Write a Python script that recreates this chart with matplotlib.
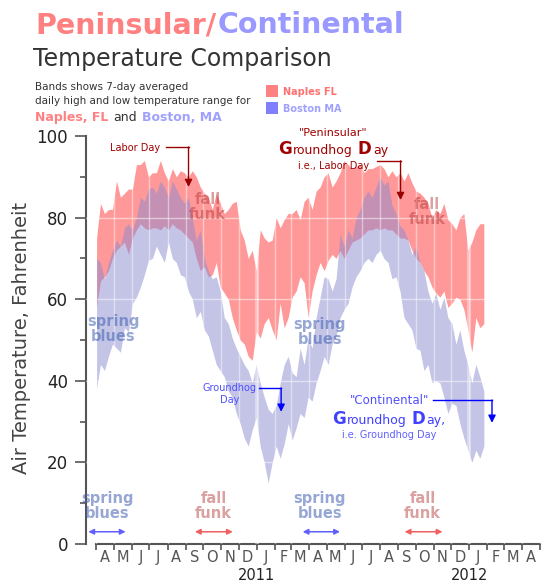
import numpy as np
import pandas as pd
import matplotlib
matplotlib.use("Agg")
import matplotlib.pyplot as plt
import matplotlib.dates as mdates
from matplotlib.patches import Rectangle
from matplotlib.transforms import IdentityTransform

# weekly readings of the 7-day averaged daily high / low (deg F), Apr 2010 -> Jan 2012
naples_high = [75, 83.5, 81, 82, 82, 89, 85, 86, 87, 87, 93, 93, 94, 90, 91, 91, 94, 91, 89, 92, 90, 91.5, 91, 90,
               91.5, 90, 87.5, 86, 85, 82, 86, 83.5, 81, 82, 83.5, 84, 77, 74.5, 70, 72, 67, 77, 75, 74, 74.5, 80, 77.5, 79.5, 81,
               81, 82, 79.5, 84, 85, 82, 86.5, 87.5, 90, 91, 87.5, 89, 91, 94, 93, 92, 92.5, 93, 91, 92, 92, 92.5, 93, 92, 90,
               91.5, 90, 91, 89, 91, 88.5, 86.5, 86, 85, 83.5, 80, 82, 81, 83.5, 79.5, 78.5, 77, 80, 81, 72, 74, 77, 78.5, 78.5]
naples_low = [58, 64.5, 65.5, 67, 70, 72, 73, 74, 71, 75, 77, 78.5, 77.5, 77, 77.5, 77.5, 77, 78, 77, 78.5, 77.5, 77, 76, 75,
              74, 70, 67, 68, 65.5, 66, 69, 63, 61.5, 60, 55.5, 52.5, 50, 49, 46, 45, 52, 50.5, 54, 55.5, 52.5, 50, 59, 53, 55.5,
              60.5, 62, 65.5, 64, 55.5, 62, 66, 69, 67, 69.5, 71, 70, 72, 70, 72, 74, 74.5, 75, 76, 77, 77, 77.5, 77, 77.5, 77,
              77, 76, 75, 75, 74.5, 72, 70, 69, 67, 65.5, 63, 61.5, 60.5, 62, 58, 59, 60.5, 60, 57.5, 52.5, 47, 55.5, 53, 54]
boston_high = [70, 69, 65, 69, 72, 74.5, 73, 77.5, 78.5, 77, 80, 85, 84, 87, 87.5, 86, 89, 87.5, 85, 89, 87, 85, 83.5, 85,
               80, 74.5, 77, 70, 67, 65, 65.5, 62, 55.5, 54, 50.5, 48, 46, 44, 42.5, 39.5, 44, 39.5, 36, 33, 32, 34, 39.5, 44, 46,
               42, 41, 48, 44, 50.5, 48, 55.5, 60.5, 65.5, 65, 62, 65, 76, 73, 77, 75, 80, 82, 85, 86.5, 85, 87.5, 90, 88, 89,
               83, 81, 78, 77, 74.5, 71, 73, 69, 67, 62, 59, 61.5, 57.5, 60.5, 55.5, 54, 49, 52.5, 47.5, 44, 39.5, 44, 41, 37.5]
boston_low = [38, 44, 42.5, 46, 49, 48, 47, 53, 52, 59, 60.5, 63, 66, 69.5, 70, 73, 71, 69, 74, 70, 69, 66, 65.5, 62,
              60, 55.5, 57, 52.5, 51, 47.5, 44, 42.5, 41, 37.5, 36, 32, 29.5, 26, 24, 28, 31, 24, 20, 15, 20, 24, 21, 24.5, 29.5,
              25.5, 28.5, 32, 31, 36, 35, 39.5, 42.5, 46, 44, 49, 51, 55.5, 57.5, 59, 63, 65.5, 67, 69, 70, 69, 71, 72, 70, 69,
              65, 65.5, 62, 55.5, 54, 52.5, 48, 47.5, 42.5, 44, 39.5, 40, 39.5, 36, 32, 34.5, 34, 29.5, 26, 23, 20, 23, 21, 24]
dates = pd.date_range("2010-04-01", "2012-01-26", periods=len(naples_high))

months = pd.date_range("2010-04-01", "2012-05-01", freq="MS")
month_labels = [m.strftime("%b")[0] for m in months[:-1]]
years = ["2011", "2012"]

W, H, DPI = 551, 586, 100


def D(s):
    return mdates.date2num(pd.to_datetime(s))


fig = plt.figure(figsize=(W / DPI, H / DPI), dpi=DPI)
ax = fig.add_axes([86 / W, 42 / H, 459 / W, 408 / H])

x = mdates.date2num(dates)
ax.fill_between(x, naples_low, naples_high, color="#ff9999", lw=0, zorder=1)
ax.fill_between(x, boston_low, boston_high, color="#8a8ad0", alpha=0.5, lw=0, zorder=2)

ax.set_xlim(D("2010-03-14"), D("2012-05-10"))
ax.set_ylim(0, 100)

# white grid drawn over the bands
for t in (20, 40, 60, 80):
    ax.axhline(t, color="white", alpha=0.5, lw=1, zorder=3)
for m in months:
    ax.axvline(D(m), color="white", alpha=0.45, lw=1, zorder=3)
for y in years:
    ax.axvline(D(y + "-01-01"), color="white", alpha=0.35, lw=3, zorder=3)

# axes styling
for side in ("top", "right"):
    ax.spines[side].set_visible(False)
ax.spines["left"].set_bounds(0, 100)
ax.spines["bottom"].set_bounds(D(months[0]), D(months[-1]))
for side in ("left", "bottom"):
    ax.spines[side].set_color("#555555")
    ax.spines[side].set_linewidth(1.5)

ax.set_yticks(range(0, 101, 20))
ax.set_yticks(range(10, 100, 20), minor=True)
ax.tick_params(axis="y", which="major", length=8, width=1.2, color="#555555",
               labelsize=12, labelcolor="#222222", pad=5)
ax.tick_params(axis="y", which="minor", length=4.5, width=1.2, color="#555555")

ax.set_xticks(D(months))
ax.set_xticklabels([])
ax.set_xticks(D(months[:-1]) + 15, minor=True)
ax.set_xticklabels(month_labels, minor=True)
ax.tick_params(axis="x", which="major", length=4, width=1.2, color="#555555")
ax.tick_params(axis="x", which="minor", length=0, pad=4, labelsize=10.5, labelcolor="#555555")

for y in years:
    ax.annotate(y, xy=(D(y + "-01-01"), 0), xycoords=("data", "axes fraction"),
                xytext=(0, -31), textcoords="offset pixels", ha="center", va="center",
                fontsize=10.5, color="#222222", annotation_clip=False)

fig.text(22 / W, 1 - 338 / H, "Air Temperature, Fahrenheit", rotation=90,
         ha="center", va="center", fontsize=14, color="#444444")


def rich(xd, yd, parts, ha="left"):
    # parts: (text, size, bold, color); x/y in display pixels, baseline aligned
    r = fig.canvas.get_renderer()
    arts, widths = [], []
    for s, size, bold, color in parts:
        if s == " ":
            arts.append(None)
            widths.append(size * 0.32 * DPI / 72)
            continue
        t = fig.text(0, 0, s, transform=IdentityTransform(), fontsize=size,
                     fontweight="bold" if bold else "normal", color=color,
                     ha="left", va="baseline", zorder=6)
        arts.append(t)
        widths.append(t.get_window_extent(r).width + size * 0.07 * DPI / 72)
    x0 = xd - sum(widths) / 2 if ha == "center" else xd
    for a, w in zip(arts, widths):
        if a is not None:
            a.set_position((x0, yd))
        x0 += w


def data_px(d, t):
    return ax.transData.transform((D(d), t))


def elbow(d0, y0, d1, ytip, color):
    ax.plot([D(d0), D(d1)], [y0, y0], color=color, lw=1, zorder=5, clip_on=False)
    ax.annotate("", xy=(D(d1), ytip), xytext=(D(d1), y0),
                arrowprops=dict(arrowstyle="-|>", color=color, lw=1, mutation_scale=11,
                                shrinkA=0, shrinkB=0), annotation_clip=False, zorder=5)


# titles
rich(35, H - 33, [("Peninsular/", 20.5, True, "#ff8080"), ("Continental", 20.5, True, "#9999ff")])
fig.text(33 / W, 1 - 66 / H, "Temperature Comparison", fontsize=17, color="#333333", va="baseline")
fig.text(35 / W, 1 - 90 / H, "Bands shows 7-day averaged", fontsize=7.5, color="#333333", va="baseline")
fig.text(35 / W, 1 - 104.3 / H, "daily high and low temperature range for", fontsize=7.5,
         color="#333333", va="baseline")
rich(35, H - 120.7, [("Naples, FL", 9, True, "#ff8080"), (" ", 9, False, ""),
                     ("and", 9, False, "#333333"), (" ", 9, False, ""),
                     ("Boston, MA", 9, True, "#a0a0ff")])

# legend
fig.add_artist(Rectangle((266 / W, 1 - 97 / H), 12 / W, 12 / H, transform=fig.transFigure,
                         color="#ff8080", lw=0))
fig.add_artist(Rectangle((266 / W, 1 - 114.3 / H), 12 / W, 12 / H, transform=fig.transFigure,
                         color="#8080ff", lw=0))
fig.text(283 / W, 1 - 95 / H, "Naples FL", fontsize=7, fontweight="bold", color="#ff7070", va="baseline")
fig.text(283 / W, 1 - 111.7 / H, "Boston MA", fontsize=7, fontweight="bold", color="#a0a0ff", va="baseline")

# Labor Day 2010
ax.text(D("2010-06-07"), 96.4, "Labor Day", fontsize=7, color="#a00000", ha="center", va="baseline", zorder=6)
elbow("2010-07-30", 97.3, "2010-09-06", 87.5, "#990000")

# Peninsular groundhog day
cx = D("2011-05-13")
ax.text(cx, 100, '"Peninsular"', fontsize=8, color="#a00000", ha="center", va="baseline", zorder=6)
px, py = data_px("2011-05-13", 95.5)
rich(px, py, [("G", 12, True, "#a00000"), ("roundhog", 9, False, "#a00000"), (" ", 9, False, ""),
              ("D", 12, True, "#a00000"), ("ay", 9, False, "#a00000")], ha="center")
ax.text(cx, 91.8, "i.e., Labor Day", fontsize=7, color="#a00000", ha="center", va="baseline", zorder=6)
elbow("2011-07-26", 93.9, "2011-09-05", 84.3, "#990000")

# Groundhog Day 2011
ax.text(D("2010-11-16"), 37.6, "Groundhog", fontsize=7, color="#5050ff", ha="center", va="baseline", zorder=6)
ax.text(D("2010-11-16"), 34.5, "Day", fontsize=7, color="#5050ff", ha="center", va="baseline", zorder=6)
elbow("2011-01-05", 38.2, "2011-02-12", 32.4, "#0000ff")

# Continental groundhog day
cx = D("2011-08-17")
ax.text(cx, 34.2, '"Continental"', fontsize=8.5, color="#5050ff", ha="center", va="baseline", zorder=6)
px, py = data_px("2011-08-17", 29.4)
rich(px, py, [("G", 12, True, "#4040ff"), ("roundhog", 9, False, "#4040ff"), (" ", 9, False, ""),
              ("D", 12, True, "#4040ff"), ("ay,", 9, False, "#4040ff")], ha="center")
ax.text(cx, 26.1, "i.e. Groundhog Day", fontsize=7, color="#6060ff", ha="center", va="baseline", zorder=6)
elbow("2011-10-31", 35.3, "2012-02-09", 29.7, "#0000ff")

# seasonal labels inside the bands
season_kw = dict(fontsize=10.5, fontweight="bold", ha="center", va="center", linespacing=1.0, zorder=6)
blue_kw = dict(color="#4060b0", alpha=0.55, **season_kw)
red_kw = dict(color="#b03030", alpha=0.45, **season_kw)
ax.text(D("2010-04-30"), 52.7, "spring\nblues", **blue_kw)
ax.text(D("2011-04-19"), 52.0, "spring\nblues", **blue_kw)
ax.text(D("2010-10-09"), 82.5, "fall\nfunk", **red_kw)
ax.text(D("2011-10-20"), 81.4, "fall\nfunk", **red_kw)

# seasonal spans along the bottom
spans = [("spring\nblues", "2010-03-18", "2010-05-21", "2010-04-20", "#6060ff", blue_kw),
         ("fall\nfunk", "2010-09-17", "2010-11-21", "2010-10-19", "#f06060", red_kw),
         ("spring\nblues", "2011-03-21", "2011-05-24", "2011-04-19", "#6060ff", blue_kw),
         ("fall\nfunk", "2011-09-12", "2011-11-16", "2011-10-13", "#f06060", red_kw)]
for label, d0, d1, dc, col, kw in spans:
    ax.annotate("", xy=(D(d1), 3), xytext=(D(d0), 3),
                arrowprops=dict(arrowstyle="<|-|>", color=col, lw=1.1, mutation_scale=8,
                                shrinkA=0, shrinkB=0), annotation_clip=False)
    ax.text(D(dc), 9.3, label, **kw)

fig.savefig("out.png", dpi=DPI)
